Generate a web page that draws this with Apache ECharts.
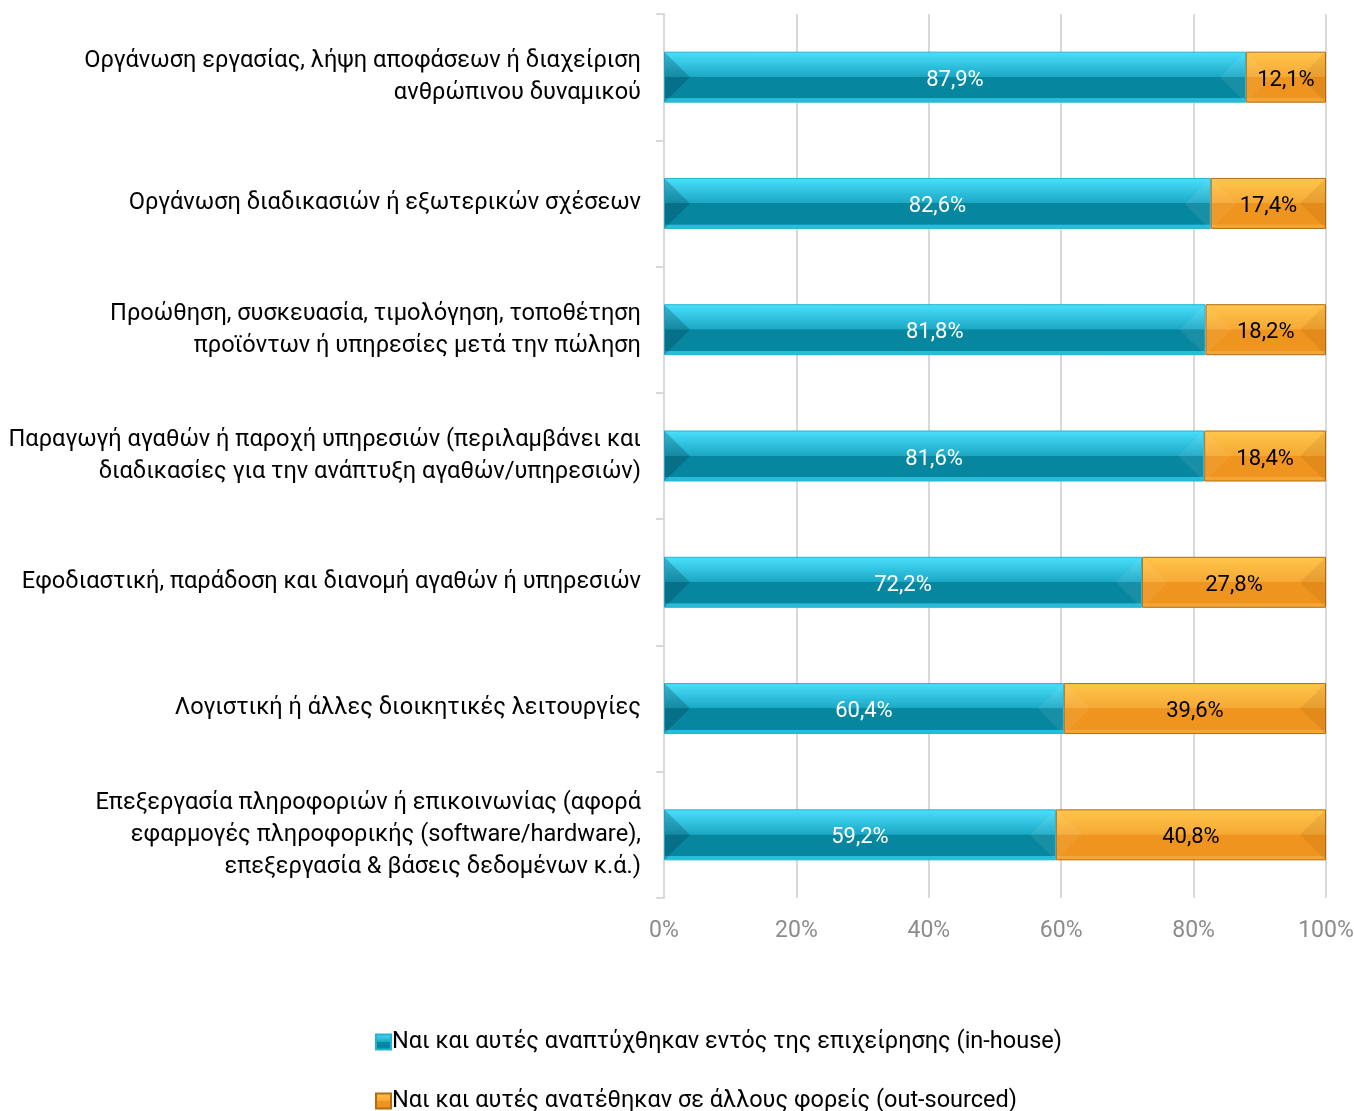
<!DOCTYPE html>
<html>
<head>
<meta charset="utf-8">
<script src="https://cdn.jsdelivr.net/npm/echarts@6/dist/echarts.min.js"></script>
<style>
html, body { margin: 0; padding: 0; background: #fff; }
#chart { width: 1354px; height: 1111px; }
</style>
</head>
<body>
<div id="chart"></div>
<script>
// κατηγορίες (από πάνω προς τα κάτω)
var categories = [
  'Οργάνωση εργασίας, λήψη αποφάσεων ή διαχείριση\nανθρώπινου δυναμικού',
  'Οργάνωση διαδικασιών ή εξωτερικών σχέσεων',
  'Προώθηση, συσκευασία, τιμολόγηση, τοποθέτηση\nπροϊόντων ή υπηρεσίες μετά την πώληση',
  'Παραγωγή αγαθών ή παροχή υπηρεσιών (περιλαμβάνει και\nδιαδικασίες για την ανάπτυξη αγαθών/υπηρεσιών)',
  'Εφοδιαστική, παράδοση και διανομή αγαθών ή υπηρεσιών',
  'Λογιστική ή άλλες διοικητικές λειτουργίες',
  'Επεξεργασία πληροφοριών ή επικοινωνίας (αφορά\nεφαρμογές πληροφορικής (software/hardware),\nεπεξεργασία & βάσεις δεδομένων κ.ά.)'
];
var seriesNames = [
  'Ναι και αυτές αναπτύχθηκαν εντός της επιχείρησης (in-house)',
  'Ναι και αυτές ανατέθηκαν σε άλλους φορείς (out-sourced)'
];
var inHouse = [87.9, 82.6, 81.8, 81.6, 72.2, 60.4, 59.2];
var outSourced = [12.1, 17.4, 18.2, 18.4, 27.8, 39.6, 40.8];
var xTicks = [0, 20, 40, 60, 80, 100];

var txtFont = "Roboto, 'Noto Sans', sans-serif";
var BAR_H = 51;

function pct(v) {
  return v.toFixed(1).replace('.', ',') + '%';
}

// ανάγλυφο χρώμα μπάρας
function bevel(light, mid, dark, edge) {
  return new echarts.graphic.LinearGradient(0, 0, 0, 1, [
    { offset: 0, color: light },
    { offset: 0.49, color: mid },
    { offset: 0.5, color: dark },
    { offset: 0.91, color: dark },
    { offset: 0.92, color: edge },
    { offset: 1, color: edge }
  ]);
}

// τμήματα για τα πλαϊνά τρίγωνα και τις ετικέτες: [αρχή, τέλος, κατηγορία, σειρά]
var segments = [];
inHouse.forEach(function (v, i) {
  segments.push([0, v, i, 0]);
  segments.push([v, v + outSourced[i], i, 1]);
});

var sideShade = [
  { left: 'rgba(0,30,50,0.22)', right: 'rgba(255,255,255,0.07)', text: '#fff' },
  { left: 'rgba(255,255,255,0.06)', right: 'rgba(120,60,0,0.10)', text: '#000' }
];

function renderSide(params, api) {
  var s = api.value(3);
  var p0 = api.coord([api.value(0), api.value(2)]);
  var p1 = api.coord([api.value(1), api.value(2)]);
  var h = BAR_H, b = h / 2;
  var x0 = p0[0] + 0.5, x1 = p1[0] - 0.5;
  var yT = p0[1] - h / 2 + 0.5, yB = p0[1] + h / 2 - 0.5, yM = p0[1];
  var sh = sideShade[s];
  var v = api.value(1) - api.value(0);
  return {
    type: 'group',
    children: [
      { type: 'polygon', shape: { points: [[x0, yT], [x0 + b, yM], [x0, yB]] }, style: { fill: sh.left } },
      { type: 'polygon', shape: { points: [[x1, yT], [x1 - b, yM], [x1, yB]] }, style: { fill: sh.right } },
      {
        type: 'text',
        style: {
          text: pct(v), x: (x0 + x1) / 2, y: yM + 3,
          fill: sh.text, font: '22px ' + txtFont, align: 'center', verticalAlign: 'middle'
        }
      }
    ]
  };
}

var legendText = { fontSize: 23.5, color: '#000', fontFamily: txtFont, padding: [0, 0, 0, -4] };

var chart = echarts.init(document.getElementById('chart'));

var option = {
  animation: false,
  textStyle: { fontFamily: txtFont },
  grid: { left: 664, right: 28, top: 14, bottom: 213, containLabel: false, outerBoundsMode: 'none' },
  legend: [
    {
      left: 370, top: 1025, itemWidth: 15, itemHeight: 15, icon: 'rect',
      textStyle: legendText, data: [seriesNames[0]]
    },
    {
      left: 370, top: 1084, itemWidth: 15, itemHeight: 15, icon: 'rect',
      textStyle: legendText, data: [seriesNames[1]]
    }
  ],
  xAxis: {
    type: 'value',
    min: 0,
    max: 100,
    interval: 20,
    axisLine: { show: false },
    axisTick: { show: false },
    splitLine: { show: true, lineStyle: { color: '#d9d9d9', width: 2 } },
    axisLabel: {
      margin: 22,
      color: '#8c8c8c',
      fontSize: 23,
      formatter: function (v) { return xTicks.indexOf(v) >= 0 ? v + '%' : ''; }
    }
  },
  yAxis: {
    type: 'category',
    inverse: true,
    data: categories,
    axisLine: { show: true, lineStyle: { color: '#d9d9d9', width: 2 } },
    axisTick: { show: true, length: 8, lineStyle: { color: '#d9d9d9', width: 2 } },
    axisLabel: {
      margin: 23,
      color: '#000',
      fontSize: 23.6,
      lineHeight: 32,
      padding: [6, 0, 0, 0],
      align: 'right'
    }
  },
  series: [
    {
      name: seriesNames[0],
      type: 'bar',
      stack: 'total',
      barWidth: BAR_H,
      data: inHouse,
      itemStyle: {
        color: bevel('#4ae0fd', '#1ba8c5', '#07879f', '#28bcd9'),
        borderColor: '#22b4d0',
        borderWidth: 1
      }
    },
    {
      name: seriesNames[1],
      type: 'bar',
      stack: 'total',
      barWidth: BAR_H,
      data: outSourced,
      itemStyle: {
        color: bevel('#ffc64c', '#f6a934', '#ef951f', '#f4a634'),
        borderColor: '#b36b14',
        borderWidth: 1
      }
    },
    {
      type: 'custom',
      silent: true,
      z: 5,
      renderItem: renderSide,
      encode: { x: [0, 1], y: 2 },
      data: segments
    }
  ]
};

chart.setOption(option);
window.onresize = function () {
  chart.resize();
};
</script>
</body>
</html>
